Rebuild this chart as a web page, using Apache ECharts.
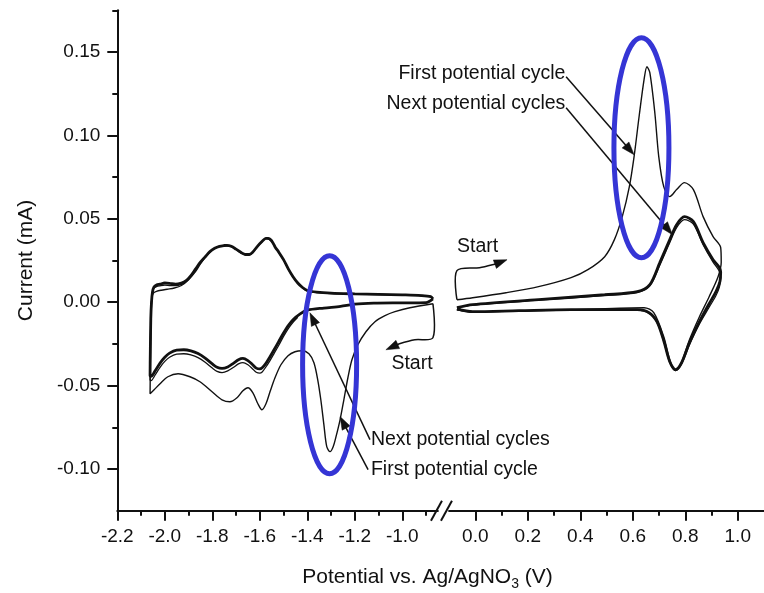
<!DOCTYPE html>
<html><head><meta charset="utf-8">
<script src="https://cdn.jsdelivr.net/npm/echarts@6/dist/echarts.min.js"></script>
<style>html,body{margin:0;padding:0;background:#fff}#c{width:764px;height:593px}</style>
</head><body><div id="c"></div>
<script>
// ---------- tick labels ----------
const leftMajorTicks  = [-2.2, -2.0, -1.8, -1.6, -1.4, -1.2, -1.0];
const leftMinorTicks  = [-2.1, -1.9, -1.7, -1.5, -1.3, -1.1, -0.9];
const rightMajorTicks = [0.0, 0.2, 0.4, 0.6, 0.8, 1.0];
const rightMinorTicks = [0.1, 0.3, 0.5, 0.7, 0.9];
const yMajorTicks = [-0.10, -0.05, 0.00, 0.05, 0.10, 0.15];
const yMinorTicks = [-0.075, -0.025, 0.025, 0.075, 0.125, 0.175];

// ---------- left window (negative potentials) ----------
const leftFirstCycle = [
 [-0.871,-0.0009],[-0.968,-0.0033],[-1.031,-0.0057],[-1.073,-0.0081],[-1.115,-0.0117],[-1.153,-0.0177],
 [-1.187,-0.0255],[-1.212,-0.0345],[-1.229,-0.0453],[-1.246,-0.0585],[-1.262,-0.0705],[-1.279,-0.0806],
 [-1.291,-0.0866],[-1.304,-0.0896],[-1.318,-0.0866],[-1.330,-0.0735],[-1.343,-0.0585],[-1.356,-0.0465],
 [-1.372,-0.0363],[-1.393,-0.0309],[-1.422,-0.0291],[-1.452,-0.0297],[-1.481,-0.0321],[-1.511,-0.0375],
 [-1.536,-0.0453],[-1.557,-0.0537],[-1.574,-0.0609],[-1.591,-0.0645],[-1.608,-0.0609],[-1.629,-0.0543],
 [-1.650,-0.0513],[-1.671,-0.0531],[-1.696,-0.0573],[-1.726,-0.0597],[-1.759,-0.0585],[-1.801,-0.0537],
 [-1.852,-0.0477],[-1.894,-0.0447],[-1.944,-0.0429],[-1.987,-0.0447],[-2.020,-0.0489],[-2.045,-0.0525],
 [-2.062,-0.0549],[-2.061,-0.040],[-2.059,-0.020],[-2.057,-0.005],[-2.054,0.003],[-2.048,0.0055],
 [-2.035,0.0065],[-2.015,0.0072],[-1.99,0.0078],[-1.96,0.0085],[-1.93,0.0100],[-1.90,0.0135],
 [-1.87,0.0185],[-1.85,0.0230],[-1.83,0.0268],[-1.81,0.0300],[-1.79,0.0322],[-1.77,0.0333],
 [-1.75,0.0338],[-1.72,0.0333],[-1.70,0.0316],[-1.68,0.0296],[-1.66,0.0283],[-1.645,0.0283],
 [-1.63,0.0298],[-1.61,0.0333],[-1.59,0.0363],[-1.575,0.0381],[-1.565,0.0380],[-1.555,0.0372],
 [-1.545,0.0355],[-1.535,0.0328],[-1.52,0.0298],[-1.50,0.0253],[-1.48,0.0198],[-1.46,0.0151],
 [-1.44,0.0113],[-1.42,0.0086],[-1.40,0.0068],[-1.36,0.0058],[-1.30,0.0052],[-1.20,0.0049],
 [-1.10,0.0046],[-1.00,0.0043],[-0.92,0.0040],[-0.88,0.0033],[-0.871,0.0020]
];
const leftNextCycles = [
 [-0.871,0.0020],[-0.90,-0.0002],[-1.00,-0.0004],[-1.12,-0.0006],[-1.20,-0.0012],[-1.26,-0.0025],
 [-1.33,-0.0035],[-1.40,-0.0048],[-1.43,-0.0070],[-1.46,-0.0105],[-1.48,-0.0140],[-1.50,-0.0185],
 [-1.52,-0.0235],[-1.54,-0.0285],[-1.557,-0.0327],[-1.575,-0.0368],[-1.59,-0.0393],[-1.60,-0.0400],
 [-1.615,-0.0395],[-1.63,-0.0375],[-1.65,-0.0350],[-1.671,-0.0337],[-1.69,-0.0345],[-1.71,-0.0365],
 [-1.735,-0.0388],[-1.759,-0.0397],[-1.78,-0.0390],[-1.80,-0.0370],[-1.83,-0.0335],[-1.86,-0.0308],
 [-1.89,-0.0292],[-1.92,-0.0285],[-1.95,-0.0287],[-1.98,-0.0305],[-2.00,-0.0330],[-2.02,-0.0365],
 [-2.04,-0.0410],[-2.058,-0.0445],[-2.062,-0.0440],[-2.061,-0.030],[-2.059,-0.010],[-2.056,0.000],
 [-2.052,0.0060],[-2.046,0.0090],[-2.035,0.0103],[-2.02,0.0108],[-2.00,0.0115],[-1.98,0.0113],
 [-1.955,0.0108],[-1.93,0.0115],[-1.91,0.0130],[-1.89,0.0160],[-1.87,0.0200],[-1.85,0.0240],
 [-1.83,0.0272],[-1.81,0.0303],[-1.79,0.0323],[-1.77,0.0335],[-1.75,0.0340],[-1.738,0.0341],
 [-1.72,0.0335],[-1.70,0.0318],[-1.68,0.0299],[-1.66,0.0286],[-1.645,0.0286],[-1.63,0.0300],
 [-1.61,0.0335],[-1.59,0.0365],[-1.575,0.0383],[-1.565,0.0382],[-1.555,0.0375],[-1.545,0.0357],
 [-1.535,0.0330],[-1.52,0.0300],[-1.50,0.0255],[-1.48,0.0200],[-1.46,0.0153],[-1.44,0.0115],
 [-1.42,0.0088],[-1.40,0.0070],[-1.36,0.0060],[-1.30,0.0054],[-1.20,0.0050],[-1.10,0.0047],
 [-1.00,0.0044],[-0.92,0.0040],[-0.88,0.0033],[-0.871,0.0020]
];
const leftSecondCycle = [
 [-1.44,-0.0090],[-1.46,-0.0120],[-1.48,-0.0158],[-1.50,-0.0205],[-1.52,-0.0258],[-1.54,-0.0308],
 [-1.557,-0.0350],[-1.575,-0.0390],[-1.59,-0.0418],[-1.60,-0.0425],[-1.615,-0.0420],[-1.63,-0.0400],
 [-1.65,-0.0375],[-1.671,-0.0362],[-1.69,-0.0370],[-1.71,-0.0390],[-1.735,-0.0412],[-1.759,-0.0422],
 [-1.78,-0.0415],[-1.80,-0.0395],[-1.83,-0.0360],[-1.86,-0.0332],[-1.89,-0.0316],[-1.92,-0.0309],
 [-1.95,-0.0311],[-1.98,-0.0330],[-2.00,-0.0355],[-2.02,-0.0390],[-2.04,-0.0435],[-2.058,-0.0470],
 [-2.062,-0.0465],[-2.061,-0.030],[-2.059,-0.010],[-2.056,0.000],[-2.052,0.0055],[-2.046,0.0082],
 [-2.035,0.0093],[-2.02,0.0098],[-2.00,0.0102],[-1.98,0.0100],[-1.955,0.0099],[-1.93,0.0107],
 [-1.91,0.0124],[-1.89,0.0155]
];

// ---------- right window (positive potentials) ----------
const rightFirstCycle = [
 [-0.070,0.0015],[-0.010,0.0027],[0.117,0.0057],[0.241,0.0093],[0.365,0.0147],[0.429,0.0195],
 [0.493,0.0273],[0.530,0.0375],[0.560,0.0513],[0.587,0.0693],[0.605,0.0873],[0.624,0.1112],
 [0.643,0.1334],[0.654,0.1412],[0.665,0.1376],[0.684,0.1136],[0.699,0.0873],[0.718,0.0693],
 [0.741,0.0633],[0.767,0.0675],[0.797,0.0717],[0.831,0.0675],[0.868,0.0513],[0.906,0.0393],
 [0.935,0.0327],[0.937,0.0240],[0.925,0.0153],[0.891,0.0033],[0.854,-0.0087],[0.816,-0.0225],
 [0.779,-0.0387],[0.760,-0.0405],[0.741,-0.0345],[0.718,-0.0207],[0.680,-0.0063],[0.643,-0.0033],
 [0.365,-0.0045],[-0.010,-0.0057],[-0.070,-0.0045]
];
const rightNextCycles = [
 [-0.070,-0.0033],[-0.010,-0.0015],[0.241,0.0015],[0.493,0.0045],[0.617,0.0063],[0.665,0.0105],
 [0.703,0.0237],[0.741,0.0375],[0.767,0.0465],[0.797,0.0513],[0.831,0.0483],[0.868,0.0357],
 [0.906,0.0255],[0.928,0.0213],[0.935,0.0183],[0.932,0.0123],[0.917,0.0063],[0.891,-0.0009],
 [0.854,-0.0117],[0.816,-0.0243],[0.786,-0.0363],[0.763,-0.0405],[0.741,-0.0357],[0.718,-0.0231],
 [0.692,-0.0117],[0.662,-0.0063],[0.617,-0.0045],[0.365,-0.0045],[0.166,-0.0051],[-0.010,-0.0057],
 [-0.070,-0.0040]
];
const rightSecondCycle = [
 [-0.070,-0.0035],[-0.010,-0.0017],[0.241,0.0012],[0.493,0.0040],[0.617,0.0058],[0.665,0.0098],
 [0.703,0.0222],[0.741,0.0358],[0.767,0.0447],[0.797,0.0495],[0.831,0.0468],[0.868,0.0345],
 [0.906,0.0240],[0.928,0.0190],[0.935,0.0150],[0.930,0.0090],[0.917,0.0040],[0.891,-0.0030],
 [0.854,-0.0130],[0.816,-0.0255],[0.786,-0.0370],[0.763,-0.0410],[0.741,-0.0362],[0.718,-0.0235],
 [0.692,-0.0120],[0.662,-0.0066],[0.617,-0.0047],[0.365,-0.0047],[-0.010,-0.0058],[-0.070,-0.0045]
];

// ---------- annotations (data coordinates) ----------
const annLeftNextArrow  = [[-1.136,-0.0824],[-1.389,-0.0063]];
const annLeftFirstArrow = [[-1.144,-0.1004],[-1.262,-0.0686]];
const annLeftStart      = [[-0.871,-0.0009],[-0.871,-0.0213],[-0.947,-0.0225],[-1.012,-0.0249],[-1.069,-0.0285]];
const annRightFirstArrow = [[0.346,0.1352],[0.605,0.0884]];
const annRightNextArrow  = [[0.346,0.1166],[0.751,0.0405]];
const annRightStart      = [[-0.070,0.0015],[-0.070,0.0189],[0.016,0.0207],[0.080,0.0231],[0.121,0.0255]];
const annTexts = [
 {side:'L', at:[-1.132,-0.0824], text:'Next potential cycles', align:'left'},
 {side:'L', at:[-1.132,-0.1004], text:'First potential cycle', align:'left'},
 {side:'L', at:[-0.959,-0.0369], text:'Start', align:'center'},
 {side:'R', at:[0.343,0.1370], text:'First potential cycle', align:'right'},
 {side:'R', at:[0.343,0.1190], text:'Next potential cycles', align:'right'},
 {side:'R', at:[0.009,0.0333], text:'Start', align:'center'}
];
const annEllipses = [
 {side:'L', at:[-1.306,-0.0375], rx:27, ry:109},
 {side:'R', at:[0.633,0.0926], rx:27.5, ry:110}
];

const FONT = '"Liberation Sans", Arial, Helvetica, sans-serif';
const INK = '#111';
const BLUE = '#3535d5';

const chart = echarts.init(document.getElementById('c'), null, {renderer:'canvas'});

function majorX(gi, min, max, ticks) {
  return {type:'value', gridIndex:gi, min:min, max:max, position:'bottom',
    axisLine:{show:true, onZero:false, lineStyle:{color:INK, width:2}},
    axisTick:{show:true, inside:false, length:10, customValues:ticks, lineStyle:{color:INK, width:2}},
    axisLabel:{show:true, customValues:ticks, formatter:function(v){return v.toFixed(1);}, margin:17,
      fontSize:19, fontFamily:FONT, color:INK},
    splitLine:{show:false}};
}
function minorX(gi, min, max, ticks) {
  return {type:'value', gridIndex:gi, min:min, max:max, position:'bottom',
    axisLine:{show:false, onZero:false},
    axisTick:{show:true, inside:false, length:5, customValues:ticks, lineStyle:{color:INK, width:2}},
    axisLabel:{show:false, customValues:ticks},
    splitLine:{show:false}};
}
function lineSeries(data, xi, yi, w) {
  return {type:'line', data:data, xAxisIndex:xi, yAxisIndex:yi, showSymbol:false, symbol:'none',
    smooth:0.3, lineStyle:{color:INK, width:w}, silent:true, animation:false, z:3};
}

const YMIN = -0.125, YMAX = 0.175;
chart.setOption({
  animation:false,
  backgroundColor:'#fff',
  grid:[
    {left:117.3, top:10.3, width:320.6, height:500.4},
    {left:449.05, top:10.3, width:319.8, height:500.4}
  ],
  xAxis:[
    majorX(0, -2.2, -0.85, leftMajorTicks),
    minorX(0, -2.2, -0.85, leftMinorTicks),
    majorX(1, -0.1, 1.1, rightMajorTicks),
    minorX(1, -0.1, 1.1, rightMinorTicks)
  ],
  yAxis:[
    {type:'value', gridIndex:0, min:YMIN, max:YMAX, position:'left',
      name:'Current (mA)', nameLocation:'middle', nameGap:81,
      nameTextStyle:{fontSize:21, fontFamily:FONT, color:INK},
      axisLine:{show:true, onZero:false, lineStyle:{color:INK, width:2}},
      axisTick:{show:true, inside:false, length:10, customValues:yMajorTicks, lineStyle:{color:INK, width:2}},
      axisLabel:{show:true, customValues:yMajorTicks, formatter:function(v){return v.toFixed(2);}, margin:17,
        fontSize:19, fontFamily:FONT, color:INK},
      splitLine:{show:false}},
    {type:'value', gridIndex:0, min:YMIN, max:YMAX, position:'left',
      axisLine:{show:false, onZero:false},
      axisTick:{show:true, inside:false, length:5, customValues:yMinorTicks, lineStyle:{color:INK, width:2}},
      axisLabel:{show:false, customValues:yMinorTicks},
      splitLine:{show:false}},
    {type:'value', gridIndex:1, min:YMIN, max:YMAX, show:false, splitLine:{show:false}}
  ],
  series:[
    lineSeries(leftFirstCycle, 0, 0, 1.4),
    lineSeries(leftSecondCycle, 0, 0, 1.3),
    lineSeries(leftNextCycles, 0, 0, 2.8),
    lineSeries(rightFirstCycle, 2, 2, 1.4),
    lineSeries(rightSecondCycle, 2, 2, 1.3),
    lineSeries(rightNextCycles, 2, 2, 2.8)
  ]
});

// ---------- annotation graphics, positioned through the axes ----------
function px(side, pt) {
  const i = side === 'L' ? 0 : 2;
  return chart.convertToPixel({xAxisIndex:i, yAxisIndex:i}, pt);
}
function arrowHead(tip, from, len, half) {
  const dx = tip[0]-from[0], dy = tip[1]-from[1];
  const d = Math.sqrt(dx*dx+dy*dy) || 1;
  const ux = dx/d, uy = dy/d;
  const bx = tip[0]-ux*len, by = tip[1]-uy*len;
  return [tip, [bx-uy*half, by+ux*half], [bx+uy*half, by-ux*half]];
}
function arrow(side, pts, smooth) {
  const p = pts.map(function(q){return px(side, q);});
  const tip = p[p.length-1], prev = p[p.length-2];
  const head = arrowHead(tip, prev, 13, 4.5);
  const dx = tip[0]-prev[0], dy = tip[1]-prev[1], d = Math.sqrt(dx*dx+dy*dy);
  const endLine = [tip[0]-dx/d*10, tip[1]-dy/d*10];
  const linePts = p.slice(0, p.length-1).concat([endLine]);
  return [
    {type:'polyline', shape:{points:linePts, smooth:smooth||0}, style:{stroke:INK, lineWidth:1.5, fill:null}, z:10},
    {type:'polygon', shape:{points:head}, style:{fill:INK, stroke:INK, lineWidth:0.5}, z:10}
  ];
}

let g = [];
g = g.concat(arrow('L', annLeftNextArrow));
g = g.concat(arrow('L', annLeftFirstArrow));
g = g.concat(arrow('L', annLeftStart, 0.3));
g = g.concat(arrow('R', annRightFirstArrow));
g = g.concat(arrow('R', annRightNextArrow));
g = g.concat(arrow('R', annRightStart, 0.3));
annEllipses.forEach(function(e){
  const c = px(e.side, e.at);
  g.push({type:'ellipse', shape:{cx:c[0], cy:c[1], rx:e.rx, ry:e.ry},
    style:{stroke:BLUE, lineWidth:5, fill:null}, z:12});
});
annTexts.forEach(function(t){
  const c = px(t.side, t.at);
  g.push({type:'text', x:c[0], y:c[1], z:14,
    style:{text:t.text, font:'19.5px ' + FONT, fill:INK, textAlign:t.align,
      textVerticalAlign:'middle', verticalAlign:'middle'}});
});
// axis break marks
const yb = px('L', [-1, YMIN])[1];
const xb = px('L', [-0.875, YMIN])[0];
g.push({type:'line', shape:{x1:xb-1, y1:yb+10, x2:xb+10, y2:yb-10}, style:{stroke:INK, lineWidth:2}, z:15});
g.push({type:'line', shape:{x1:xb+9, y1:yb+10, x2:xb+20, y2:yb-10}, style:{stroke:INK, lineWidth:2}, z:15});
// x-axis title spanning both windows
const xl = px('L', [-2.2, YMIN])[0], xr = px('R', [1.0, YMIN])[0];
g.push({type:'text', x:(xl+xr)/2, y:yb+67, z:14,
  style:{text:'Potential vs. Ag/AgNO{s|3} (V)', font:'21px ' + FONT, fontSize:21, fontFamily:FONT,
    fill:INK, textAlign:'center', textVerticalAlign:'middle', verticalAlign:'middle', lineHeight:27,
    rich:{s:{fontSize:14, fontFamily:FONT, fill:INK, verticalAlign:'bottom', lineHeight:14}}}});
chart.setOption({graphic:g});
</script>
</body></html>
